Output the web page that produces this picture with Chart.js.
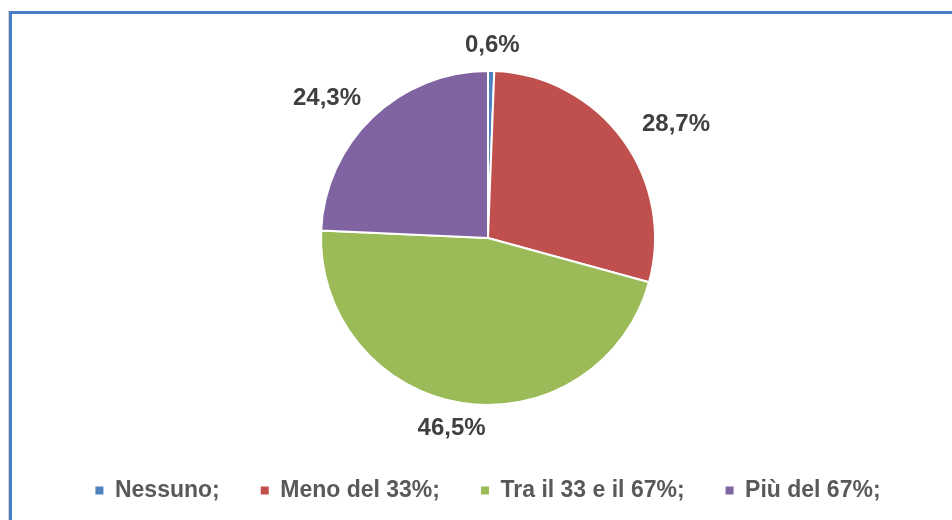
<!DOCTYPE html>
<html>
<head>
<meta charset="utf-8">
<script src="https://cdn.jsdelivr.net/npm/chart.js@4/dist/chart.umd.min.js"></script>
<style>
    html, body { margin: 0; padding: 0; background: #fff; }
    #wrap { position: relative; width: 952px; height: 520px; overflow: hidden; }
    #cornice {
        position: absolute; left: 9px; top: 11px; width: 1000px; height: 600px;
        border-top: 3px solid #4a7ec8; border-left: 3px solid #4a7ec8;
        box-shadow: -1px 0 0 #d6d6d6;
    }
    canvas { position: absolute; left: 0; top: 0; }
</style>
</head>
<body>
<div id="wrap">
    <div id="cornice"></div>
    <canvas id="grafico" width="952" height="520"></canvas>
</div>
<script>
// Dati del grafico
const categorie = ['Nessuno;', 'Meno del 33%;', 'Tra il 33 e il 67%;', 'Più del 67%;'];
const percentuali = [0.6, 28.7, 46.5, 24.3];
const etichette = ['0,6%', '28,7%', '46,5%', '24,3%'];
const colori = ['#4f81bd', '#c0504d', '#9bbb59', '#8064a2'];

const FONT = "'Liberation Sans', Arial, sans-serif";

// Etichette percentuali fuori dalle fette
const etichettePlugin = {
    id: 'etichette',
    afterDatasetsDraw(chart) {
        const ctx = chart.ctx;
        const archi = chart.getDatasetMeta(0).data;
        ctx.save();
        ctx.font = 'bold 24px ' + FONT;
        ctx.fillStyle = '#404040';
        ctx.textAlign = 'center';
        ctx.textBaseline = 'middle';
        archi.forEach((arco, i) => {
            const { x, y, startAngle, endAngle, outerRadius } = arco.getProps(['x', 'y', 'startAngle', 'endAngle', 'outerRadius'], true);
            const medio = (startAngle + endAngle) / 2;
            const r = outerRadius + 22;
            const w = ctx.measureText(etichette[i]).width;
            const px = x + Math.cos(medio) * r + Math.cos(medio) * (w / 2 + 10);
            const py = y + Math.sin(medio) * r + Math.sin(medio) * 4;
            ctx.fillText(etichette[i], px, py);
        });
        ctx.restore();
    }
};

new Chart(document.getElementById('grafico'), {
    type: 'pie',
    data: {
        labels: categorie,
        datasets: [{
            data: percentuali,
            backgroundColor: colori,
            borderColor: '#ffffff',
            borderWidth: 2
        }]
    },
    options: {
        responsive: false,
        animation: false,
        radius: 167,
        layout: { padding: { left: 24, right: 0, top: 38, bottom: 8 } },
        plugins: {
            tooltip: { enabled: false },
            legend: {
                position: 'bottom',
                labels: {
                    boxWidth: 8,
                    boxHeight: 8,
                    padding: 41,
                    color: '#595959',
                    font: { family: FONT, size: 23, weight: 'bold' },
                    generateLabels(chart) {
                        const base = Chart.overrides.pie.plugins.legend.labels.generateLabels(chart);
                        return base.map(l => Object.assign(l, { lineWidth: 0 }));
                    }
                }
            }
        }
    },
    plugins: [etichettePlugin]
});
</script>
</body>
</html>
